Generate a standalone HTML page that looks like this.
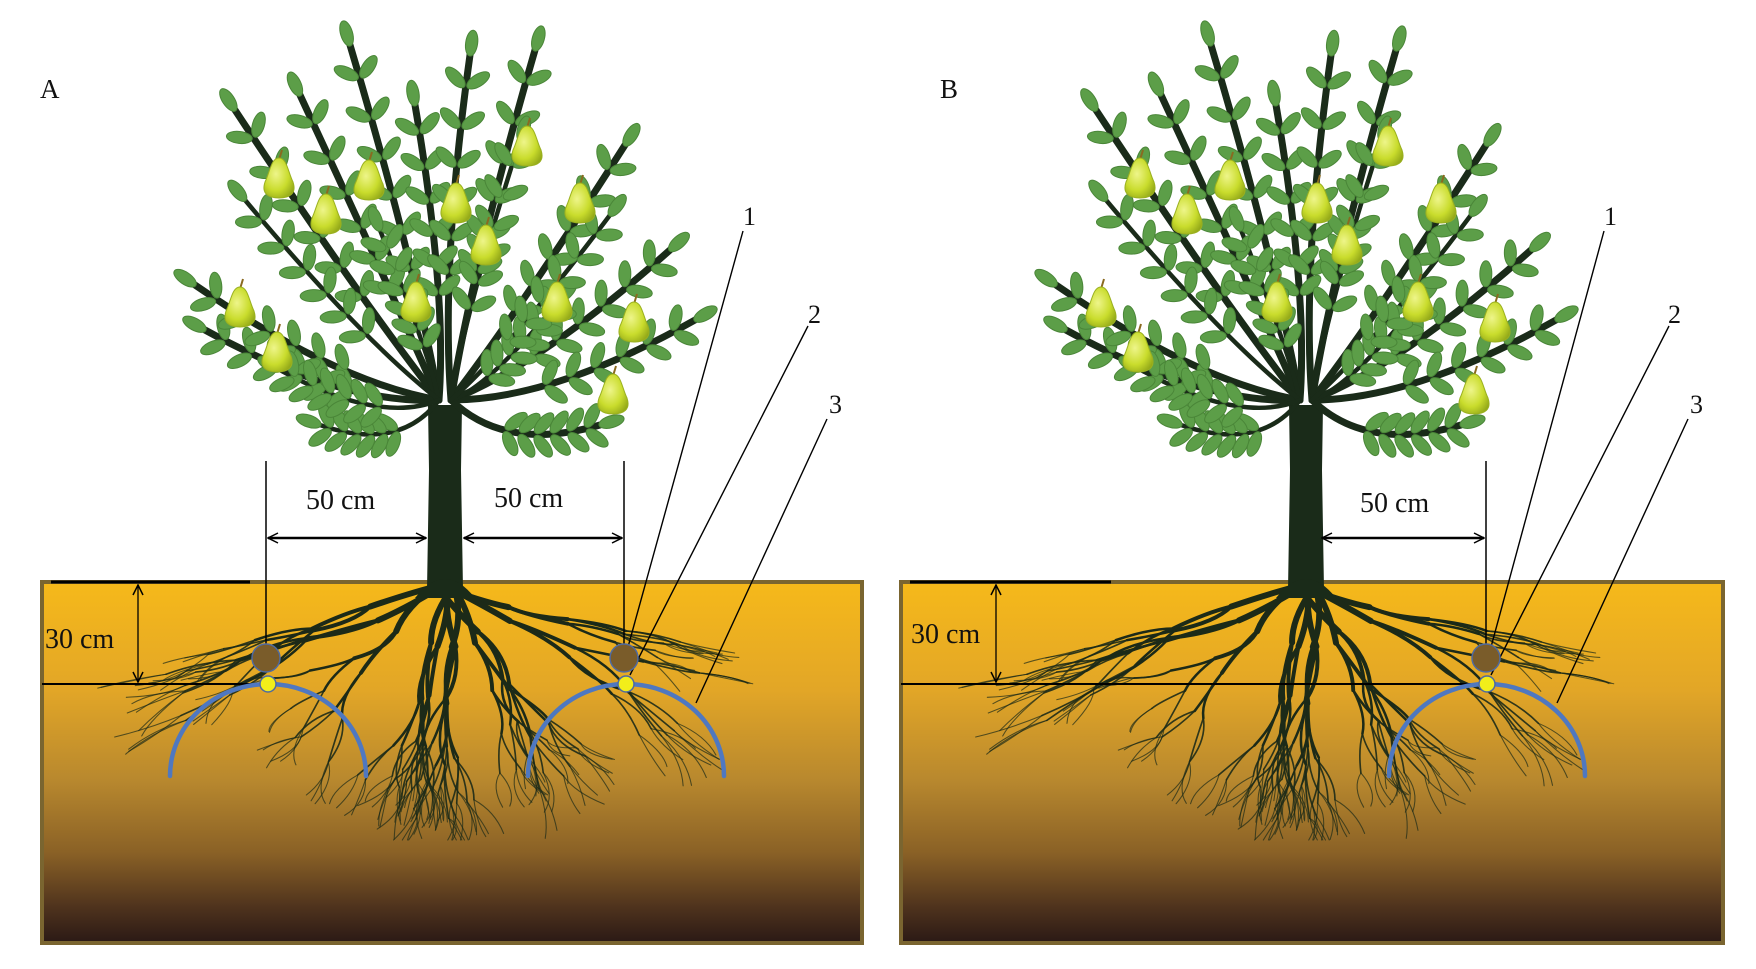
<!DOCTYPE html>
<html><head><meta charset="utf-8"><style>
html,body{margin:0;padding:0;background:#fff;width:1756px;height:969px;overflow:hidden}
svg{display:block}
text{font-family:"Liberation Serif",serif;fill:#111}
</style></head><body>
<svg id="s" width="1756" height="969" viewBox="0 0 1756 969" xmlns="http://www.w3.org/2000/svg">
<defs>
<linearGradient id="soil" x1="0" y1="0" x2="0" y2="1">
<stop offset="0" stop-color="#f6b91a"/>
<stop offset="0.3" stop-color="#e2a627"/>
<stop offset="0.55" stop-color="#b8882e"/>
<stop offset="0.75" stop-color="#8a6126"/>
<stop offset="0.9" stop-color="#4f331d"/>
<stop offset="1" stop-color="#2b1915"/>
</linearGradient>
<radialGradient id="pear" cx="0.4" cy="0.4" r="0.7">
<stop offset="0" stop-color="#eef58a"/>
<stop offset="0.6" stop-color="#c9dc2c"/>
<stop offset="1" stop-color="#93a818"/>
</radialGradient>
<marker id="ar" viewBox="0 0 12 12" refX="11" refY="6" markerWidth="12" markerHeight="12" markerUnits="userSpaceOnUse" orient="auto-start-reverse">
<path d="M1,1 L11,6 L1,11" fill="none" stroke="#000" stroke-width="1.5"/>
</marker>
</defs>
<rect x="42" y="582" width="820" height="361" fill="url(#soil)" stroke="#7a6530" stroke-width="4"/>
<rect x="901" y="582" width="822" height="361" fill="url(#soil)" stroke="#7a6530" stroke-width="4"/>
<g id="treeA"></g>
<g id="treeB"></g>
<text x="40" y="98" font-size="27">A</text>
<text x="940" y="98" font-size="27">B</text>
<g stroke="#000" fill="none">
<line x1="266" y1="461" x2="266" y2="658" stroke-width="1.5"/>
<line x1="624" y1="461" x2="624" y2="658" stroke-width="1.5"/>
<line x1="268" y1="538" x2="426" y2="538" stroke-width="2.5" marker-start="url(#ar)" marker-end="url(#ar)"/>
<line x1="464" y1="538" x2="622" y2="538" stroke-width="2.5" marker-start="url(#ar)" marker-end="url(#ar)"/>
<line x1="51" y1="582" x2="250" y2="582" stroke-width="3"/>
<line x1="138" y1="585" x2="138" y2="682" stroke-width="1.3" marker-start="url(#ar)" marker-end="url(#ar)"/>
<line x1="42" y1="684" x2="262" y2="684" stroke-width="2"/>
<line x1="743" y1="231" x2="628" y2="647" stroke-width="1.4"/>
<line x1="808" y1="326" x2="630" y2="675" stroke-width="1.4"/>
<line x1="827" y1="419" x2="696" y2="703" stroke-width="1.4"/>
<line x1="1486" y1="461" x2="1486" y2="658" stroke-width="1.5"/>
<line x1="1322" y1="538" x2="1484" y2="538" stroke-width="2.5" marker-start="url(#ar)" marker-end="url(#ar)"/>
<line x1="910" y1="582" x2="1111" y2="582" stroke-width="3"/>
<line x1="996" y1="585" x2="996" y2="682" stroke-width="1.3" marker-start="url(#ar)" marker-end="url(#ar)"/>
<line x1="901" y1="684" x2="1480" y2="684" stroke-width="2"/>
<line x1="1604" y1="231" x2="1491" y2="647" stroke-width="1.4"/>
<line x1="1669" y1="326" x2="1491" y2="675" stroke-width="1.4"/>
<line x1="1688" y1="419" x2="1557" y2="703" stroke-width="1.4"/>
</g>
<text x="306" y="509" font-size="28">50 cm</text>
<text x="494" y="507" font-size="28">50 cm</text>
<text x="45" y="648" font-size="28">30 cm</text>
<text x="743" y="225" font-size="26">1</text>
<text x="808" y="323" font-size="26">2</text>
<text x="829" y="413" font-size="26">3</text>
<text x="1360" y="512" font-size="28">50 cm</text>
<text x="911" y="643" font-size="28">30 cm</text>
<text x="1604" y="225" font-size="26">1</text>
<text x="1668" y="323" font-size="26">2</text>
<text x="1690" y="413" font-size="26">3</text>
<g fill="none" stroke="#4f78c0" stroke-width="4.5" stroke-linecap="round">
<path d="M170,776 A98,92 0 0 1 366,776"/>
<path d="M528,776 A98,92 0 0 1 724,776"/>
<path d="M1389,776 A98,92 0 0 1 1585,776"/>
</g>
<g stroke="#4f6aa0" stroke-width="1.5">
<circle cx="266" cy="658" r="14" fill="#7a5c2a"/>
<circle cx="268" cy="684" r="8" fill="#f2ee1a"/>
<circle cx="624" cy="658" r="14" fill="#7a5c2a"/>
<circle cx="626" cy="684" r="8" fill="#f2ee1a"/>
<circle cx="1486" cy="658" r="14" fill="#7a5c2a"/>
<circle cx="1487" cy="684" r="8" fill="#f2ee1a"/>
</g>
</svg>
<script>
var NS="http://www.w3.org/2000/svg";
function el(p,t,a){var e=document.createElementNS(NS,t);for(var k in a)e.setAttribute(k,a[k]);p.appendChild(e);return e;}
function build(g,dx,seed){
 var r=seed;function rnd(){r=(r*16807)%2147483647;return r/2147483647;}
 var cx=445+dx;
 var rg=el(g,"g",{fill:"none",stroke:"#1c2a18","stroke-linecap":"round"});
 function root(x,y,ang,len,w,depth){
   var x2=x+Math.cos(ang)*len,y2=y+Math.sin(ang)*len;
   if(y2>840)y2=840;
   var mx=(x+x2)/2+(rnd()-0.5)*24,my=(y+y2)/2+(rnd()-0.5)*12;
   el(rg,"path",{d:"M"+x+","+y+" Q"+mx+","+my+" "+x2+","+y2,"stroke-width":w,opacity:Math.min(1,0.35+w/3)});
   if(depth>0){
     for(var i=0;i<2;i++){
       var na=ang+(rnd()-0.5)*0.7;
       if(na<0.2)na=0.2; if(na>Math.PI-0.2)na=Math.PI-0.2;
       root(x2,y2,na,len*(0.8+rnd()*0.2),w*0.65,depth-1);
     }
   }
 }
 var angs=[0.3,0.5,0.85,1.2,1.45,1.6,1.72,1.95,2.3,2.65,2.85];
 for(var i=0;i<angs.length;i++){
   var a=angs[i];var side=Math.abs(a-1.57);
   root(cx+(rnd()-0.5)*20,585,a,side>0.8?75:62,6,4);
 }
 el(g,"path",{d:"M"+(cx-18)+",590 L"+(cx-16)+",470 L"+(cx-17)+",405 L"+(cx+17)+",405 L"+(cx+16)+",470 L"+(cx+18)+",590 Z",fill:"#1a2b19"});
 el(g,"path",{d:"M"+(cx-30)+",598 Q"+cx+",560 "+(cx+30)+",598 Z",fill:"#1a2b19"});
 var tips=[[205,330],[195,285],[235,110],[300,95],[350,45],[415,105],[470,55],[535,50],[625,145],[670,250],[695,320],[600,425],[320,425],[520,140],[380,230],[560,300],[245,200],[610,215],[280,370]];
 var bg=el(g,"g",{fill:"none",stroke:"#1a2b19","stroke-linecap":"round"});
 var lg=el(g,"g",{fill:"#5c9e48",stroke:"#4a8638","stroke-width":"1"});
 for(var i=0;i<tips.length;i++){
   var tx=tips[i][0]+dx,ty=tips[i][1];
   var sx=cx+(tx<cx?-6:6),sy=400;
   var qx=(sx+tx)/2+(tx<cx?20:-20),qy=(sy+ty)/2+40;
   el(bg,"path",{d:"M"+sx+","+sy+" Q"+qx+","+qy+" "+tx+","+ty,"stroke-width":i<12?7:4.5});
   for(var t=0.42;t<=1.01;t+=0.1){
     var u=1-t;
     var px=u*u*sx+2*u*t*qx+t*t*tx,py=u*u*sy+2*u*t*qy+t*t*ty;
     var ddx=2*u*(qx-sx)+2*t*(tx-qx),ddy=2*u*(qy-sy)+2*t*(ty-qy);
     var ang=Math.atan2(ddy,ddx)*180/Math.PI;
     for(var s=-1;s<=1;s+=2){
       var la=ang+s*50;
       var rad=la*Math.PI/180;
       var lx=px+Math.cos(rad)*15,ly=py+Math.sin(rad)*15;
       el(lg,"ellipse",{cx:lx,cy:ly,rx:13,ry:6,transform:"rotate("+la+" "+lx+" "+ly+")"});
     }
   }
   var a2=Math.atan2(ty-qy,tx-qx)*180/Math.PI;
   var ex=tx+Math.cos(a2*Math.PI/180)*12,ey=ty+Math.sin(a2*Math.PI/180)*12;
   el(lg,"ellipse",{cx:ex,cy:ey,rx:13,ry:6,transform:"rotate("+a2+" "+ex+" "+ey+")"});
 }
 var pears=[[279,178],[326,214],[369,180],[456,203],[486,245],[527,146],[580,203],[416,302],[557,302],[240,307],[277,352],[634,322],[613,394]];
 var pg=el(g,"g",{});
 for(var i=0;i<pears.length;i++){
   var x=pears[i][0]+dx,y=pears[i][1];
   el(pg,"line",{x1:x,y1:y-18,x2:x+3,y2:y-28,stroke:"#8a6a20","stroke-width":2});
   el(pg,"path",{d:"M"+x+","+(y-20)+" C"+(x+8)+","+(y-20)+" "+(x+9)+","+(y-6)+" "+(x+14)+","+(y+4)+" C"+(x+18)+","+(y+16)+" "+(x+10)+","+(y+20)+" "+x+","+(y+20)+" C"+(x-10)+","+(y+20)+" "+(x-18)+","+(y+16)+" "+(x-14)+","+(y+4)+" C"+(x-9)+","+(y-6)+" "+(x-8)+","+(y-20)+" "+x+","+(y-20)+" Z",fill:"url(#pear)",stroke:"#9ab020","stroke-width":1});
 }
}
build(document.getElementById("treeA"),0,12345);
build(document.getElementById("treeB"),861,12345);
</script>
</body></html>
